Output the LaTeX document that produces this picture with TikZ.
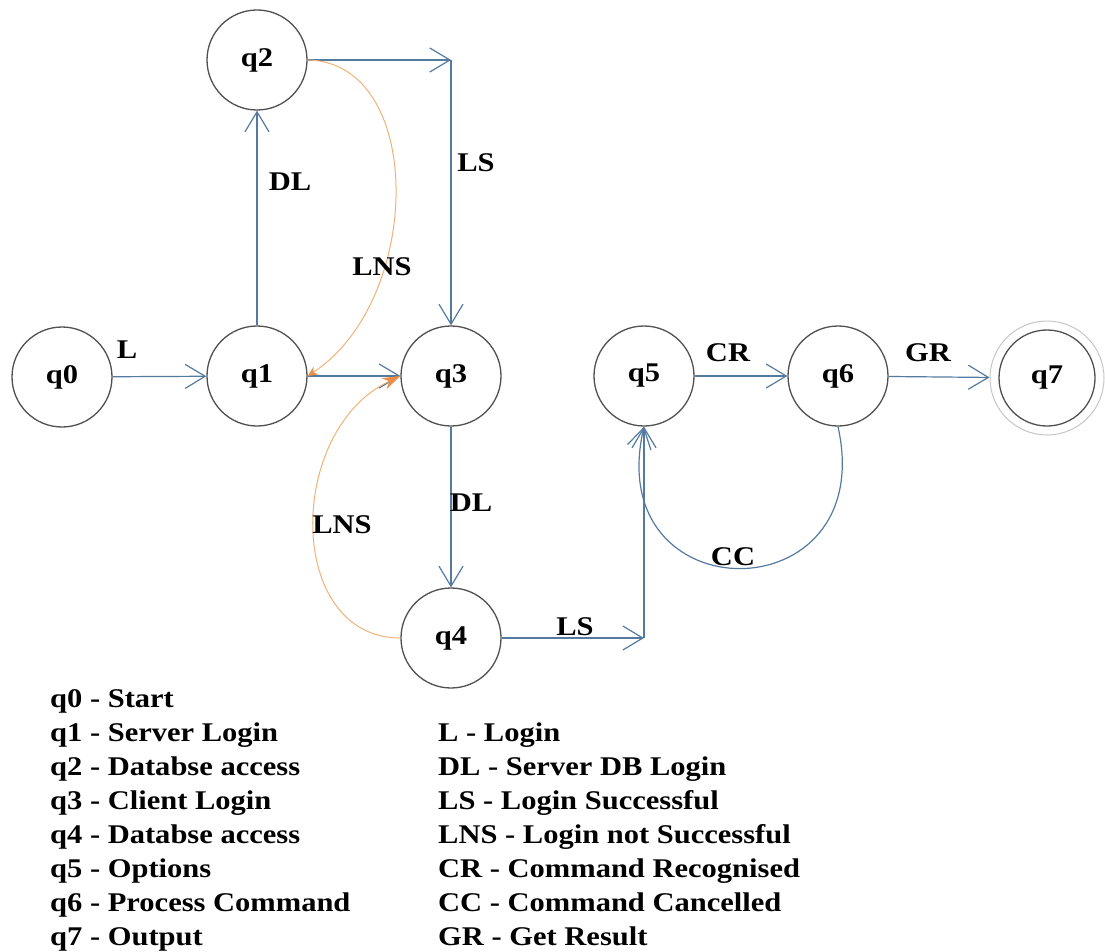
\documentclass[tikz,border=0pt]{standalone}
\usepackage{fontspec}
\setmainfont{Liberation Serif}[FakeStretch=1.13]
\usetikzlibrary{arrows.meta}

\definecolor{edgeblue}{RGB}{84,122,160}
\definecolor{stategray}{RGB}{80,80,80}
\definecolor{lnsorange}{RGB}{240,178,120}
\definecolor{headorange}{RGB}{236,140,70}

\tikzset{
  state/.style={circle, draw=stategray, line width=1.3pt, minimum size=100pt, inner sep=0pt,
    font=\fontsize{27}{34}\selectfont\bfseries},
  edge/.style={edgeblue, line width=1.2pt, -{Straight Barb[length=20pt,width=24pt]}},
  lns/.style={lnsorange, line width=1pt},
  lbl/.style={font=\fontsize{27}{34}\selectfont\bfseries, inner sep=1pt},
  key/.style={font=\fontsize{27}{34}\selectfont\bfseries, anchor=base west, inner sep=0pt},
}

\begin{document}
\begin{tikzpicture}[x=1pt,y=-1pt]
    \useasboundingbox (0,0) rectangle (1105,952);

    % States
    \node[state] (q0) at (62,377) {q0};
    \node[state] (q1) at (257,376) {q1};
    \node[state] (q2) at (257,60) {q2};
    \node[state] (q3) at (451,376) {q3};
    \node[state] (q4) at (451,638) {q4};
    \node[state] (q5) at (644,376) {q5};
    \node[state] (q6) at (838,376) {q6};
    \node[state, minimum size=96pt] (q7) at (1047,378) {q7};
    \node[circle, draw=gray!45, line width=1pt, minimum size=114pt] (q7ring) at (q7) {};

    % Corners of the bent connectors
    \coordinate (c1) at (q3 |- q2.east);
    \coordinate (c2) at (q5 |- q4.east);

    % Transitions
    \draw[edge] (q0) -- (q1);
    \draw[edge] (q1) -- (q2);
    \draw[edge] (q2.east) -- (c1);
    \draw[edge] (c1) -- (q3);
    \draw[edge] (q1) -- (q3);
    \draw[edge] (q3) -- (q4);
    \draw[edge] (q4.east) -- (c2);
    \draw[edge] (c2) -- (q5);
    \draw[edge] (q5) -- (q6);
    \draw[edge] (q6) -- (q7ring);
    \draw[edge] (q6.south) .. controls +(42,189) and +(-44,189) .. (q5.south);

    % Failed logins go back
    \draw[lns, -{Stealth[length=10pt,width=9pt,color=headorange]}] (q2.east) .. controls +(118,2) and +(116,-76) .. (q1.east);
    \draw[lns, -{Stealth[length=18pt,width=12pt,color=headorange]}] (q4.west) .. controls +(-115,0) and +(-115,54) .. (q3.west);

    % Edge labels
    \node[lbl] (lbL) at (127,350) {L};
    \node[lbl] (lbDLa) at (290,182) {DL};
    \node[lbl] (lbLSa) at (476,163) {LS};
    \node[lbl] (lbLNSa) at (382,267) {LNS};
    \node[lbl] (lbLNSb) at (342,525) {LNS};
    \node[lbl] (lbDLb) at (471,503) {DL};
    \node[lbl] (lbLSb) at (575,627) {LS};
    \node[lbl] (lbCR) at (728,353) {CR};
    \node[lbl] (lbGR) at (928,353) {GR};
    \node[lbl] (lbCC) at (733,557) {CC};

    % Key to the states
    \node[key] (k0) at (50,707) {q0 - Start};
    \node[key] (k1) at (50,741) {q1 - Server Login};
    \node[key] (k2) at (50,775) {q2 - Databse access};
    \node[key] (k3) at (50,809) {q3 - Client Login};
    \node[key] (k4) at (50,843) {q4 - Databse access};
    \node[key] (k5) at (50,877) {q5 - Options};
    \node[key] (k6) at (50,911) {q6 - Process Command};
    \node[key] (k7) at (50,945) {q7 - Output};

    % Key to the inputs
    \node[key] (kL) at (438,741) {L - Login};
    \node[key] (kDL) at (438,775) {DL - Server DB Login};
    \node[key] (kLS) at (438,809) {LS - Login Successful};
    \node[key] (kLNS) at (438,843) {LNS - Login not Successful};
    \node[key] (kCR) at (438,877) {CR - Command Recognised};
    \node[key] (kCC) at (438,911) {CC - Command Cancelled};
    \node[key] (kGR) at (438,945) {GR - Get Result};
\end{tikzpicture}
\end{document}
